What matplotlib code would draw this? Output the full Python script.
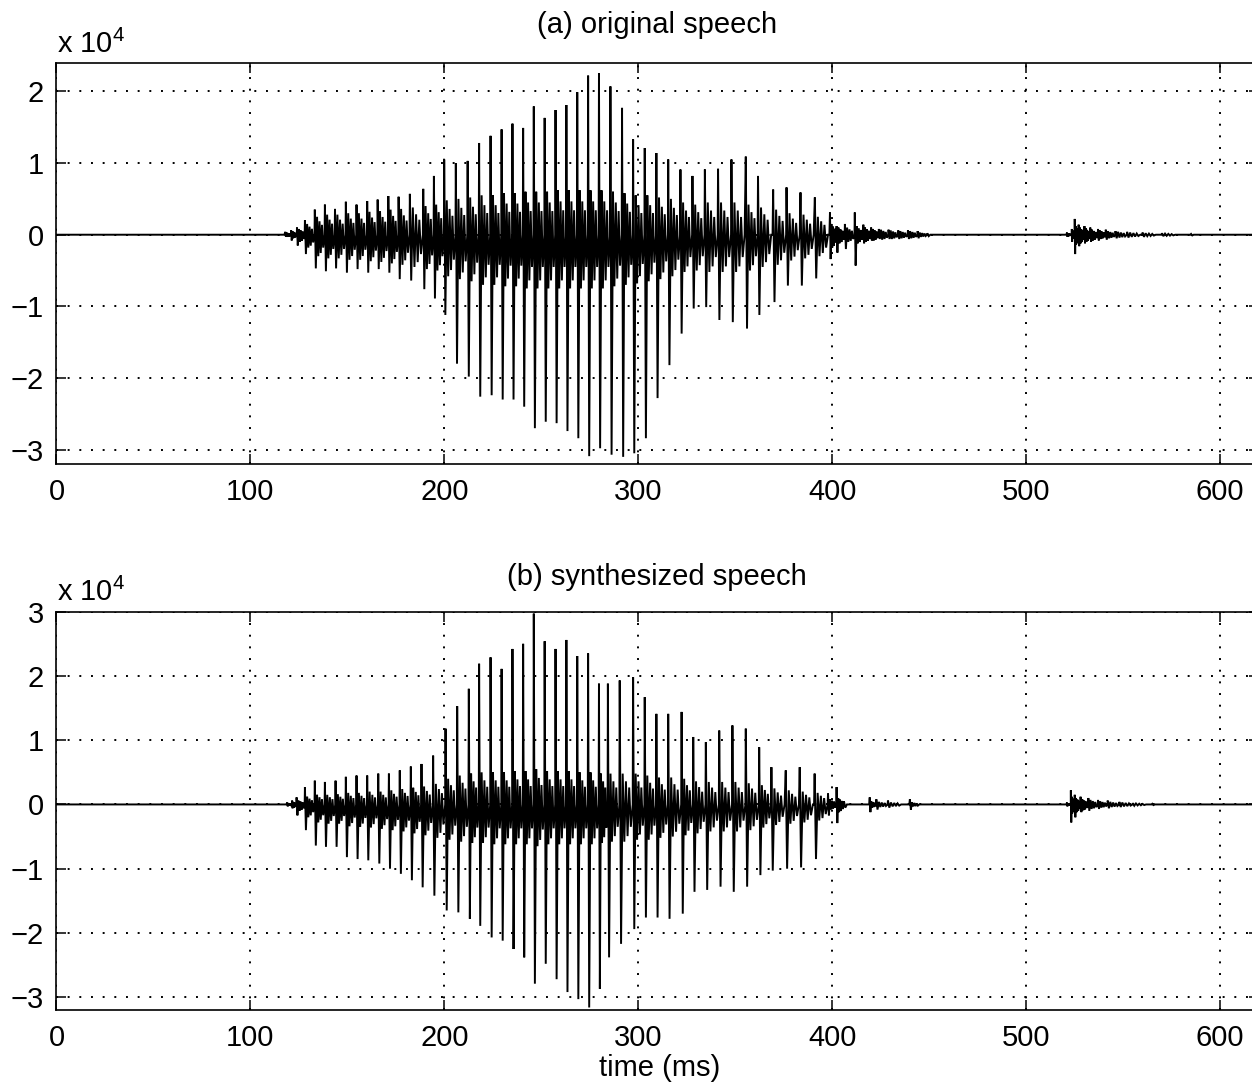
import matplotlib
matplotlib.use("Agg")
import matplotlib.pyplot as plt

plt.rcParams['font.family'] = ['Liberation Sans', 'DejaVu Sans']

# ---------------- data (amplitudes in units of 10^4, time in ms) ----------------
# (a) original speech: pitch pulses, positive / negative peaks, in-between band
a_t = [118, 121, 124, 128.1, 133.2, 138.4, 143.6, 149.2, 154.7, 160.2, 165.6, 171.1,
       176.4, 182.2, 189.1, 194.6, 199.9, 205.9, 212.0, 217.9, 223.8, 229.5, 235.1,
       240.6, 246.1, 251.7, 257.3, 262.9, 268.5, 274.1, 279.7, 285.6, 291.6, 297.3,
       303.3, 309.3, 315.4, 321.7, 327.9, 334.3, 341.1, 348.0, 355.4, 361.7, 369.5,
       376.4, 383.6, 391.0, 398.8, 402.2, 406.5, 411.6, 416, 420, 424, 429, 434, 439,
       444, 449,
       521, 523.5, 525, 527, 530, 533, 537, 541, 546, 552, 560, 570, 585]
a_pos = [0.04, 0.06, 0.10, 0.20, 0.35, 0.42, 0.36, 0.46, 0.42, 0.47, 0.49, 0.54,
         0.53, 0.57, 0.64, 0.82, 1.05, 1.00, 1.03, 1.28, 1.38, 1.47, 1.55,
         1.49, 1.79, 1.63, 1.74, 1.81, 1.99, 2.22, 2.25, 2.07, 1.77, 1.33,
         1.21, 1.14, 1.05, 0.91, 0.82, 0.91, 0.92, 1.05, 1.09, 0.82, 0.63,
         0.66, 0.59, 0.52, 0.31, 0.12, 0.15, 0.31, 0.14, 0.10, 0.08, 0.07, 0.06, 0.06,
         0.05, 0.02,
         0.03, 0.08, 0.22, 0.14, 0.12, 0.10, 0.08, 0.07, 0.05, 0.04, 0.03, 0.02, 0.01]
a_neg = [-0.03, -0.08, -0.15, -0.27, -0.47, -0.51, -0.47, -0.53, -0.48, -0.53, -0.48, -0.53,
         -0.62, -0.64, -0.76, -0.89, -1.12, -1.80, -1.98, -2.26, -2.24, -2.30, -2.30,
         -2.40, -2.70, -2.61, -2.63, -2.74, -2.84, -3.09, -2.98, -3.07, -3.10, -3.05,
         -2.84, -2.28, -1.82, -1.38, -1.03, -1.01, -1.19, -1.22, -1.31, -1.12, -0.94,
         -0.71, -0.71, -0.61, -0.34, -0.25, -0.20, -0.43, -0.12, -0.08, -0.06, -0.06, -0.06, -0.06,
         -0.05, -0.02,
         -0.03, -0.10, -0.27, -0.16, -0.12, -0.10, -0.08, -0.07, -0.05, -0.04, -0.03, -0.02, -0.01]
a_up = [0.03, 0.05, 0.08, 0.15, 0.25, 0.28, 0.28, 0.30, 0.30, 0.32, 0.33, 0.35,
        0.36, 0.38, 0.40, 0.42, 0.48, 0.50, 0.52, 0.55, 0.55, 0.58, 0.58,
        0.60, 0.60, 0.60, 0.62, 0.62, 0.62, 0.62, 0.62, 0.60, 0.58, 0.55,
        0.55, 0.52, 0.50, 0.45, 0.42, 0.45, 0.45, 0.45, 0.42, 0.38, 0.35,
        0.30, 0.28, 0.25, 0.15, 0.10, 0.10, 0.12, 0.10, 0.08, 0.07, 0.06, 0.05, 0.05,
        0.03, 0.0,
        0.02, 0.06, 0.12, 0.10, 0.09, 0.07, 0.06, 0.05, 0.04, 0.03, 0.02, 0.015, 0.0]
a_dn = [-0.03, -0.05, -0.10, -0.18, -0.30, -0.33, -0.33, -0.35, -0.35, -0.37, -0.38, -0.40,
        -0.42, -0.45, -0.48, -0.50, -0.58, -0.62, -0.65, -0.70, -0.70, -0.72, -0.72,
        -0.75, -0.75, -0.75, -0.75, -0.75, -0.75, -0.75, -0.75, -0.72, -0.70, -0.68,
        -0.65, -0.62, -0.58, -0.52, -0.50, -0.52, -0.52, -0.52, -0.50, -0.45, -0.42,
        -0.36, -0.33, -0.30, -0.18, -0.12, -0.10, -0.12, -0.10, -0.08, -0.07, -0.06, -0.05, -0.05,
        -0.03, 0.0,
        -0.02, -0.06, -0.14, -0.12, -0.10, -0.08, -0.06, -0.05, -0.04, -0.03, -0.02, -0.015, 0.0]

# (b) synthesized speech
b_t = [119, 121.5, 123.8, 128.1, 133.2, 138.4, 143.9, 149.2, 154.7, 160.2, 165.9, 171.4,
       177.0, 182.7, 188.2, 194.2, 200.6, 206.6, 212.6, 217.9, 223.8, 229.5, 235.1,
       240.6, 246.1, 251.7, 257.3, 262.9, 268.5, 274.1, 279.7, 284.3, 290.4, 297.3,
       303.3, 309.3, 315.4, 322.3, 328.3, 334.8, 341.7, 348.5, 355.4, 362.3, 368.6,
       376.0, 383.2, 390.9, 397.8, 402.2, 406, 419.3, 422.7, 428.7, 440, 445,
       521, 523, 525, 528, 532, 537, 542, 548, 555, 565]
b_pos = [0.03, 0.06, 0.11, 0.27, 0.37, 0.35, 0.37, 0.43, 0.45, 0.45, 0.48, 0.48,
         0.53, 0.59, 0.63, 0.76, 1.18, 1.53, 1.80, 2.19, 2.29, 2.11, 2.42,
         2.50, 2.97, 2.54, 2.42, 2.56, 2.31, 2.35, 1.88, 1.88, 1.93, 1.98,
         1.67, 1.41, 1.41, 1.44, 1.05, 0.97, 1.15, 1.23, 1.18, 0.89, 0.58,
         0.53, 0.58, 0.48, 0.17, 0.27, 0.05, 0.11, 0.08, 0.06, 0.08, 0.0,
         0.03, 0.22, 0.15, 0.12, 0.10, 0.07, 0.06, 0.04, 0.02, 0.01]
b_neg = [-0.03, -0.06, -0.17, -0.40, -0.64, -0.66, -0.66, -0.82, -0.85, -0.87, -0.92, -1.00,
         -1.08, -1.18, -1.29, -1.42, -1.65, -1.68, -1.78, -1.89, -2.07, -2.12, -2.25,
         -2.38, -2.79, -2.48, -2.72, -2.92, -3.03, -3.16, -2.87, -2.38, -2.17, -1.94,
         -1.76, -1.76, -1.78, -1.70, -1.36, -1.33, -1.28, -1.36, -1.28, -1.10, -1.03,
         -1.00, -0.98, -0.85, -0.17, -0.29, -0.05, -0.12, -0.08, -0.05, -0.08, 0.0,
         -0.03, -0.28, -0.20, -0.12, -0.10, -0.07, -0.06, -0.04, -0.02, -0.01]
b_up = [0.02, 0.04, 0.06, 0.12, 0.15, 0.15, 0.16, 0.18, 0.18, 0.20, 0.20, 0.22,
        0.24, 0.26, 0.28, 0.32, 0.40, 0.45, 0.48, 0.50, 0.50, 0.50, 0.52,
        0.52, 0.55, 0.52, 0.52, 0.52, 0.50, 0.50, 0.48, 0.48, 0.48, 0.48,
        0.45, 0.42, 0.42, 0.40, 0.36, 0.35, 0.35, 0.35, 0.33, 0.30, 0.25,
        0.22, 0.20, 0.18, 0.08, 0.10, 0.0, 0.05, 0.04, 0.03, 0.03, 0.0,
        0.02, 0.12, 0.10, 0.08, 0.07, 0.05, 0.04, 0.03, 0.015, 0.0]
b_dn = [-0.02, -0.05, -0.10, -0.20, -0.28, -0.30, -0.30, -0.34, -0.35, -0.36, -0.38, -0.40,
        -0.42, -0.45, -0.48, -0.52, -0.55, -0.58, -0.60, -0.60, -0.62, -0.62, -0.62,
        -0.62, -0.65, -0.62, -0.62, -0.62, -0.62, -0.62, -0.60, -0.58, -0.58, -0.55,
        -0.55, -0.52, -0.50, -0.48, -0.45, -0.42, -0.42, -0.42, -0.40, -0.36, -0.32,
        -0.30, -0.28, -0.25, -0.08, -0.12, 0.0, -0.05, -0.04, -0.03, -0.03, 0.0,
        -0.02, -0.14, -0.12, -0.09, -0.07, -0.05, -0.04, -0.03, -0.015, 0.0]

x_ticks = [0, 100, 200, 300, 400, 500, 600]
a_yticks = [-3, -2, -1, 0, 1, 2]
b_yticks = [-3, -2, -1, 0, 1, 2, 3]
titles = ["(a) original speech", "(b) synthesized speech"]
x_label = "time (ms)"

# drawing style of the oscillation between two pitch pulses (relative weights)
ZIG = [1.0, 1.0, 0.75, 0.85, 0.55, 0.6]


def waveform(t, pos, neg, up, dn, x0=0.0, x1=620.0):
    xs, ys = [x0, t[0] - 0.5], [0.0, 0.0]
    nz = len(ZIG)
    for k in range(len(t)):
        gap = (t[k + 1] - t[k]) if k + 1 < len(t) else 6.0
        P = min(gap, 7.0)
        xs += [t[k], t[k] + 0.1 * P]
        ys += [pos[k], neg[k]]
        for i in range(1, nz + 1):
            xs.append(t[k] + 0.1 * P + 0.85 * P * i / (nz + 1))
            ys.append((up[k] if i % 2 else dn[k]) * ZIG[i - 1])
        xs.append(t[k] + 0.97 * P)
        ys.append(0.0)
        if gap > P + 0.5:
            xs.append(t[k] + gap - 0.3)
            ys.append(0.0)
    xs.append(x1)
    ys.append(0.0)
    return xs, ys


fig = plt.figure(figsize=(12.52, 10.89), dpi=100)
ax1 = fig.add_axes([0.0451, 0.5739, 0.9605, 0.3685])
ax2 = fig.add_axes([0.0451, 0.0725, 0.9605, 0.3658])

series = [(ax1, a_t, a_pos, a_neg, a_up, a_dn, a_yticks, (-3.2, 2.4)),
          (ax2, b_t, b_pos, b_neg, b_up, b_dn, b_yticks, (-3.2, 3.0))]

for ax, t, p, n, u, d, yt, yl in series:
    xs, ys = waveform(t, p, n, u, d)
    ax.plot(xs, ys, color='black', linewidth=1.4, solid_joinstyle='miter')
    ax.set_xlim(0, 620)
    ax.set_ylim(*yl)
    ax.set_xticks(x_ticks)
    ax.set_yticks(yt)
    ax.set_xticklabels([str(v) for v in x_ticks])
    ax.set_yticklabels([('\u2212' + str(-v)) if v < 0 else str(v) for v in yt])
    ax.grid(True, color='black', linestyle=(0, (1, 5)), linewidth=1.4)
    ax.tick_params(direction='in', length=7, width=1.1, top=True, right=True,
                   labelsize=21, colors='black')
    ax.tick_params(axis='x', pad=10)
    ax.tick_params(axis='y', pad=9)
    for s in ax.spines.values():
        s.set_linewidth(1.2)

fig.text(0.5248, 1 - 25 / 1089, titles[0], ha='center', va='center', fontsize=21)
fig.text(0.5248, 1 - 577 / 1089, titles[1], ha='center', va='center', fontsize=21)
fig.text(0.5272, 1 - 1068 / 1089, x_label, ha='center', va='center', fontsize=21)
fig.text(0.0455, 1 - 53 / 1089, r'x 10$^{\mathregular{4}}$', ha='left', va='baseline', fontsize=21)
fig.text(0.0455, 1 - 601 / 1089, r'x 10$^{\mathregular{4}}$', ha='left', va='baseline', fontsize=21)

fig.savefig("out.png", dpi=100)
